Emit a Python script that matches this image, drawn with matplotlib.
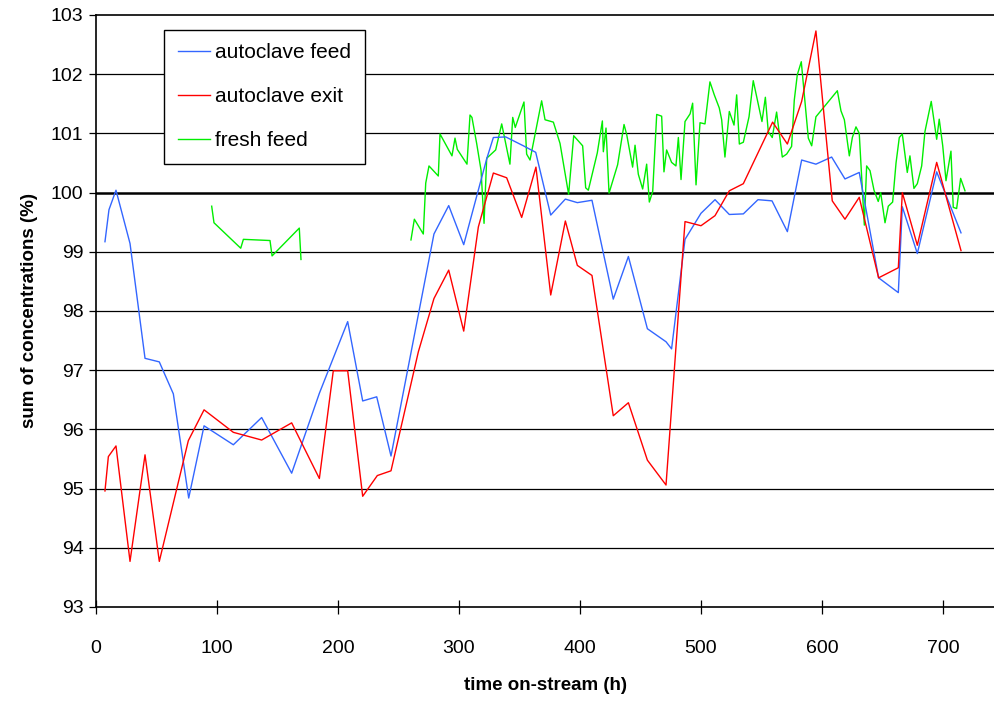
import numpy as np
import matplotlib
matplotlib.use('Agg')
import matplotlib.pyplot as plt

plt.rcParams['font.family'] = ['Liberation Sans', 'DejaVu Sans']

# autoclave feed (sum of concentrations, %)
feed_t = [7.4, 10.7, 16.5, 28.1, 40.5, 52.3, 63.9, 76.6, 89.3, 113.5, 136.9,
          161.7, 184.6, 208.0, 220.4, 232.0, 243.8, 279.3, 291.5, 303.9,
          322.9, 328.4, 338.6, 353.2, 363.4, 375.8, 387.9, 397.8, 409.9,
          427.5, 440.0, 455.7, 471.1, 475.7, 486.8, 500.0, 511.6, 523.4,
          535.0, 547.1, 558.7, 571.4, 583.2, 595.0, 608.0, 619.0, 630.8,
          646.8, 663.1, 666.4, 678.8, 694.8, 714.9]
feed_c = [99.17, 99.71, 100.04, 99.14, 97.20, 97.14, 96.60, 94.84, 96.06,
          95.74, 96.20, 95.26, 96.61, 97.82, 96.48, 96.55, 95.55, 99.30,
          99.78, 99.12, 100.57, 100.93, 100.94, 100.79, 100.68, 99.62, 99.89,
          99.83, 99.87, 98.20, 98.92, 97.70, 97.48, 97.36, 99.21, 99.65,
          99.88, 99.63, 99.64, 99.88, 99.86, 99.34, 100.55, 100.48, 100.60,
          100.23, 100.34, 98.56, 98.31, 99.76, 98.97, 100.35, 99.32]

# autoclave exit
exit_t = [7.4, 10.2, 16.5, 28.1, 40.5, 52.3, 76.3, 89.3, 113.5, 136.9, 161.7,
          184.6, 196.1, 208.0, 220.4, 232.5, 243.8, 266.4, 279.3, 291.5,
          303.9, 316.0, 328.4, 339.4, 351.8, 363.6, 375.8, 387.9, 397.8,
          409.9, 427.5, 440.0, 455.7, 471.1, 486.8, 500.0, 511.6, 523.4,
          535.0, 559.2, 571.4, 583.2, 595.0, 608.5, 619.0, 630.8, 646.8,
          663.1, 666.4, 678.8, 694.8, 714.9]
exit_c = [94.96, 95.54, 95.72, 93.77, 95.57, 93.77, 95.81, 96.33, 95.95,
          95.82, 96.11, 95.17, 96.99, 96.99, 94.87, 95.22, 95.30, 97.31,
          98.21, 98.69, 97.66, 99.42, 100.33, 100.25, 99.58, 100.43, 98.27,
          99.52, 98.77, 98.60, 96.23, 96.45, 95.48, 95.06, 99.51, 99.44,
          99.61, 100.03, 100.15, 101.19, 100.82, 101.54, 102.73, 99.86,
          99.55, 99.92, 98.56, 98.73, 100.00, 99.11, 100.51, 99.02]

# fresh feed, first campaign
fresh1_t = [95.6, 97.5, 119.6, 121.8, 143.8, 145.5, 168.0, 169.4]
fresh1_c = [99.77, 99.49, 99.06, 99.21, 99.19, 98.93, 99.40, 98.87]

# fresh feed, second campaign
fresh2_t = [260.3, 263.1, 270.5, 272.5, 275.2, 282.9, 284.3, 294.2, 296.7,
            298.6, 306.6, 309.1, 310.7, 314.6, 318.2, 320.7, 322.9, 330.3,
            335.3, 342.1, 344.4, 346.5, 353.7, 355.9, 358.7, 368.3, 371.1,
            378.0, 383.5, 390.6, 394.8, 402.2, 404.7, 406.9, 414.3, 418.5,
            419.3, 421.5, 424.0, 431.1, 436.4, 438.6, 443.5, 445.5, 448.2,
            451.8, 455.1, 457.3, 460.1, 463.4, 467.5, 469.4, 471.6, 475.7,
            479.3, 481.3, 483.5, 486.8, 491.0, 493.1, 495.9, 499.2, 503.3,
            507.4, 511.0, 515.1, 517.1, 519.8, 523.4, 527.3, 529.5, 531.7,
            535.0, 539.7, 543.2, 550.4, 553.2, 555.6, 558.9, 562.5, 567.2,
            570.8, 574.9, 577.1, 579.6, 582.9, 588.7, 591.5, 595.0, 612.7,
            615.7, 618.5, 622.6, 625.1, 628.1, 630.8, 635.0, 636.9, 639.7,
            643.0, 646.5, 648.5, 652.1, 654.8, 658.4, 661.2, 663.9, 666.4,
            670.5, 672.7, 676.0, 678.8, 682.4, 685.1, 690.3, 694.8, 696.9,
            699.8, 702.5, 706.6, 708.5, 711.3, 714.6, 718.2]
fresh2_c = [99.20, 99.55, 99.30, 100.16, 100.45, 100.28, 100.99, 100.62,
            100.92, 100.73, 100.48, 101.31, 101.27, 100.83, 100.38, 99.48,
            100.58, 100.72, 101.16, 100.48, 101.27, 101.10, 101.53, 100.65,
            100.55, 101.55, 101.23, 101.19, 100.83, 99.97, 100.96, 100.79,
            100.08, 100.04, 100.67, 101.21, 100.69, 101.09, 99.99, 100.47,
            101.15, 100.98, 100.43, 100.80, 100.31, 100.06, 100.48, 99.84,
            100.02, 101.32, 101.29, 100.35, 100.72, 100.51, 100.45, 100.93,
            100.22, 101.20, 101.33, 101.51, 100.13, 101.18, 101.16, 101.87,
            101.65, 101.43, 101.23, 100.60, 101.37, 101.14, 101.65, 100.82,
            100.85, 101.28, 101.89, 101.20, 101.61, 101.03, 100.93, 101.36,
            100.60, 100.65, 100.78, 101.56, 101.99, 102.21, 100.92, 100.79,
            101.28, 101.72, 101.38, 101.23, 100.62, 100.93, 101.11, 101.00,
            99.45, 100.45, 100.37, 100.04, 99.85, 100.00, 99.49, 99.77, 99.84,
            100.50, 100.93, 100.99, 100.34, 100.62, 100.07, 100.15, 100.45,
            101.03, 101.54, 100.90, 101.24, 100.79, 100.20, 100.70, 99.75,
            99.73, 100.24, 100.03]

BLUE = '#3366ff'
RED = '#ff0000'
GREEN = '#00ee00'

fig = plt.figure(figsize=(9.95, 7.03), dpi=100)
ax = fig.add_axes([0.0965, 0.1366, 0.9035, 0.8421])

for y in range(94, 103):
    ax.axhline(y, color='black', lw=1.8 if y == 100 else 0.9, zorder=1)

ax.plot(feed_t, feed_c, color=BLUE, lw=1.0, label='autoclave feed', zorder=3)
ax.plot(exit_t, exit_c, color=RED, lw=1.0, label='autoclave exit', zorder=3)
ax.plot(fresh1_t, fresh1_c, color=GREEN, lw=1.0, label='fresh feed', zorder=2)
ax.plot(fresh2_t, fresh2_c, color=GREEN, lw=1.0, zorder=2)

ax.set_xlim(0, 743)
ax.set_ylim(93, 103)
ax.set_xticks(np.arange(0, 800, 100))
ax.set_yticks(np.arange(93, 104, 1))

ax.spines['right'].set_visible(False)
for s in ('left', 'bottom', 'top'):
    ax.spines[s].set_linewidth(1.2)
    ax.spines[s].set_color('black')

ax.tick_params(axis='x', direction='inout', length=10, width=0.9,
               labelsize=14, pad=19)
ax.tick_params(axis='y', direction='out', length=5, width=0.9,
               labelsize=14, pad=4)

ax.set_xlabel('time on-stream (h)', fontsize=13.5, weight='bold', labelpad=14)
ax.set_ylabel('sum of concentrations (%)', fontsize=13.5, weight='bold',
              labelpad=9)

leg = ax.legend(loc='upper left', bbox_to_anchor=(0.0756, 0.975),
                borderaxespad=0, fontsize=15, frameon=True, fancybox=False,
                edgecolor='black', framealpha=1, handlelength=1.55,
                labelspacing=1.2, borderpad=0.65, handletextpad=0.25)
leg.get_frame().set_linewidth(1.0)

fig.savefig('out.png', dpi=100, facecolor='white')
plt.close()
